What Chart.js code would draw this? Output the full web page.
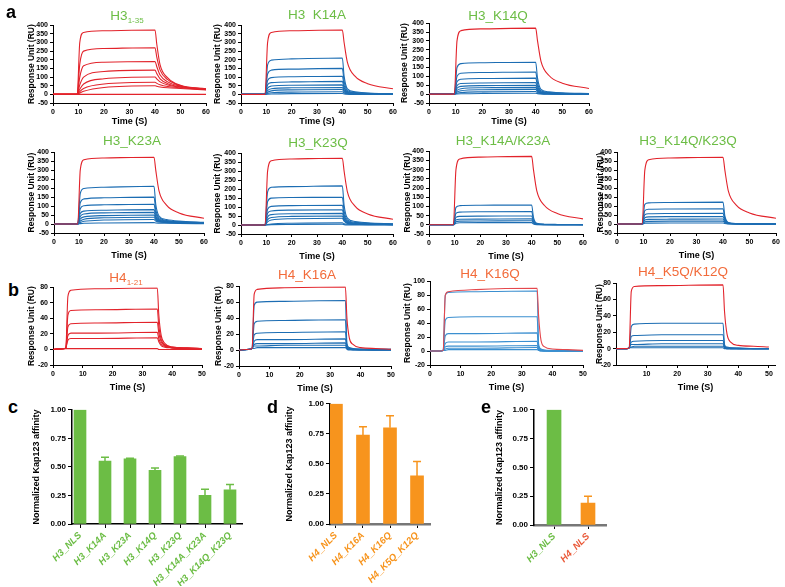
<!DOCTYPE html>
<html>
<head>
<meta charset="utf-8">
<script src="https://cdn.jsdelivr.net/npm/chart.js@4.4.0/dist/chart.umd.min.js"></script>
<style>
body { margin: 0; background: #fff; }
#wrap { position: relative; width: 785px; height: 587px; overflow: hidden; font-family: "Liberation Sans", Arial, sans-serif; }
canvas { position: absolute; }
.ttl { position: absolute; font-size: 13.5px; white-space: pre; transform: translate(-50%, -50%); line-height: 1; }
.ttl sub { font-size: 8px; vertical-align: -3px; }
.lt { position: absolute; font-size: 18px; font-weight: bold; line-height: 1; }
</style>
</head>
<body>
<div id="wrap"></div>
<script>
// sensorgram time points (s)
var tH3 = [0, 9.5, 10.5, 12, 20, 40, 40.7, 42, 45, 50, 60];
var tH4 = [0, 3.5, 4.3, 5, 6, 15, 35, 35.5, 36.3, 37.5, 40, 45, 50];

// highest concentration reference curve (red) used in the H3 mutant panels
var redH3 = [0, 0, 300, 358, 368, 372, 300, 185, 105, 62, 32];

var h3_wt = [
    [0, 0, 300, 358, 368, 372, 290, 170, 95, 52, 32],
    [0, 0, 175, 250, 265, 270, 215, 140, 85, 50, 31],
    [0, 0, 100, 165, 186, 190, 160, 112, 72, 47, 30],
    [0, 0, 55, 100, 132, 140, 120, 90, 62, 44, 29],
    [0, 0, 30, 60, 90, 100, 90, 72, 54, 41, 28],
    [0, 0, 16, 34, 60, 70, 64, 55, 45, 38, 27],
    [0, 0, 8, 18, 40, 50, 47, 43, 38, 34, 26],
    [0, 0, 0, 0, 0, 0, 0, 0, 0, 0, 0]
];
var h3_k14a = [
    [0, 0, 170, 198, 205, 210, 105, 32, 15, 8, 4],
    [0, 0, 118, 140, 146, 150, 75, 23, 11, 6, 3],
    [0, 0, 80, 97, 102, 105, 52, 16, 8, 4, 2],
    [0, 0, 55, 68, 72, 75, 38, 12, 6, 3, 2],
    [0, 0, 36, 48, 53, 55, 28, 9, 4, 2, 1],
    [0, 0, 22, 32, 38, 40, 20, 7, 3, 2, 1],
    [0, 0, 12, 20, 26, 28, 14, 5, 2, 1, 1],
    [0, 0, 5, 9, 13, 15, 8, 3, 1, 1, 0],
    [0, 0, 1, 2, 4, 5, 3, 1, 0, 0, 0]
];
var h3_k14q = [
    [0, 0, 150, 172, 177, 180, 90, 27, 13, 7, 3],
    [0, 0, 100, 118, 122, 125, 62, 19, 9, 5, 2],
    [0, 0, 70, 84, 88, 90, 45, 14, 6, 3, 2],
    [0, 0, 48, 60, 63, 65, 33, 10, 5, 2, 1],
    [0, 0, 33, 44, 48, 50, 25, 8, 4, 2, 1],
    [0, 0, 21, 30, 36, 38, 19, 6, 3, 1, 1],
    [0, 0, 12, 19, 25, 27, 14, 4, 2, 1, 0],
    [0, 0, 5, 9, 13, 15, 8, 3, 1, 0, 0],
    [0, 0, 1, 2, 4, 5, 3, 1, 0, 0, 0]
];
var h3_k23a = [
    [0, 0, 170, 198, 205, 210, 110, 45, 25, 16, 9],
    [0, 0, 118, 140, 146, 150, 80, 35, 20, 13, 8],
    [0, 0, 85, 102, 107, 110, 60, 28, 17, 11, 7],
    [0, 0, 58, 72, 77, 80, 45, 22, 14, 10, 6],
    [0, 0, 42, 56, 62, 65, 37, 19, 12, 9, 6],
    [0, 0, 28, 40, 47, 50, 30, 16, 11, 8, 5],
    [0, 0, 17, 27, 35, 38, 24, 14, 10, 7, 5],
    [0, 0, 8, 15, 22, 25, 17, 11, 8, 6, 4],
    [0, 0, 2, 4, 6, 8, 6, 5, 4, 3, 2]
];
var h3_k23q = [
    [0, 0, 185, 210, 214, 218, 110, 38, 20, 12, 7],
    [0, 0, 130, 150, 153, 155, 78, 28, 15, 9, 5],
    [0, 0, 88, 104, 108, 110, 56, 21, 11, 7, 4],
    [0, 0, 65, 78, 83, 85, 44, 17, 9, 6, 4],
    [0, 0, 45, 58, 63, 65, 34, 14, 8, 5, 3],
    [0, 0, 30, 42, 48, 50, 27, 11, 7, 4, 3],
    [0, 0, 18, 28, 35, 38, 21, 9, 6, 4, 2],
    [0, 0, 3, 6, 10, 12, 7, 4, 3, 2, 1],
    [0, 0, 1, 2, 3, 4, 2, 1, 1, 0, 0]
];
var h3_k14a_k23a = [
    [0, 0, 95, 104, 106, 108, 40, 8, 3, 2, 1],
    [0, 0, 62, 69, 71, 72, 27, 6, 2, 1, 1],
    [0, 0, 40, 46, 47, 48, 18, 4, 2, 1, 0],
    [0, 0, 26, 30, 31, 32, 12, 3, 1, 1, 0],
    [0, 0, 17, 20, 21, 22, 9, 2, 1, 0, 0],
    [0, 0, 8, 11, 12, 12, 5, 1, 0, 0, 0]
];
var h3_k14q_k23q = [
    [0, 0, 110, 118, 120, 122, 45, 9, 3, 2, 1],
    [0, 0, 75, 82, 84, 85, 32, 6, 2, 1, 1],
    [0, 0, 52, 57, 59, 60, 23, 5, 2, 1, 0],
    [0, 0, 35, 40, 41, 42, 16, 4, 1, 1, 0],
    [0, 0, 22, 26, 27, 28, 11, 3, 1, 0, 0],
    [0, 0, 12, 15, 16, 16, 7, 2, 1, 0, 0],
    [0, 0, 4, 5, 6, 6, 3, 1, 0, 0, 0]
];

var h4_wt = [
    [0, 1, 2, 68, 76, 78, 79, 45, 18, 8, 3, 2, 1],
    [0, 1, 2, 44, 50, 51, 52, 30, 13, 6, 3, 2, 1],
    [0, 1, 2, 29, 33, 34, 35, 21, 10, 5, 2, 1, 1],
    [0, 1, 2, 18, 21, 21, 22, 14, 7, 4, 2, 1, 1],
    [0, 1, 2, 12, 14, 14, 15, 10, 5, 3, 2, 1, 1],
    [0, 1, 1, 1, 1, 1, 1, 0, 0, 0, 0, 0, 0]
];
var redK16A = [0, 1, 2, 70, 76, 78, 79, 40, 15, 7, 3, 2, 1];
var h4_k16a = [
    [0, 1, 2, 56, 60, 61, 62, 8, 3, 2, 1, 1, 1],
    [0, 1, 2, 33, 36, 37, 38, 5, 2, 1, 1, 1, 1],
    [0, 1, 2, 19, 21, 22, 23, 4, 2, 1, 1, 0, 0],
    [0, 1, 2, 11, 13, 13, 14, 3, 1, 1, 1, 0, 0],
    [0, 1, 2, 7, 8, 8, 9, 2, 1, 1, 0, 0, 0],
    [0, 1, 2, 5, 5, 6, 6, 2, 1, 0, 0, 0, 0],
    [0, 1, 2, 2, 3, 3, 3, 1, 0, 0, 0, 0, 0]
];
var redK16Q = [0, 0, 1, 80, 85, 88, 90, 50, 15, 6, 3, 2, 1];
var h4_k16q = [
    [0, 0, 1, 80, 84, 85, 86, 10, 3, 1, 1, 0, 0],
    [0, 0, 1, 44, 48, 49, 49, 6, 2, 1, 0, 0, 0],
    [0, 0, 1, 22, 25, 25, 26, 4, 1, 1, 0, 0, 0],
    [0, 0, 1, 11, 13, 13, 14, 2, 1, 0, 0, 0, 0],
    [0, 0, 1, 6, 7, 7, 8, 2, 1, 0, 0, 0, 0],
    [0, 0, 1, 3, 4, 4, 5, 1, 0, 0, 0, 0, 0],
    [0, 0, 1, 1, 2, 2, 2, 1, 0, 0, 0, 0, 0]
];
var redK5QK12Q = [0, 0, 1, 70, 76, 77, 78, 45, 18, 8, 4, 3, 2];
var h4_k5q_k12q = [
    [0, 0, 1, 27, 30, 31, 31, 5, 2, 1, 1, 0, 0],
    [0, 0, 1, 15, 16, 17, 17, 3, 1, 1, 0, 0, 0],
    [0, 0, 1, 8, 9, 10, 10, 2, 1, 0, 0, 0, 0],
    [0, 0, 1, 5, 5, 6, 6, 1, 0, 0, 0, 0, 0],
    [0, 0, 1, 2, 3, 3, 3, 1, 0, 0, 0, 0, 0],
    [0, 0, 1, 1, 1, 1, 1, 0, 0, 0, 0, 0, 0]
];

// normalized Kap123 affinity
var catsC = ['H3_NLS', 'H3_K14A', 'H3_K23A', 'H3_K14Q', 'H3_K23Q', 'H3_K14A_K23A', 'H3_K14Q_K23Q'];
var valsC = [1.0, 0.55, 0.57, 0.47, 0.59, 0.25, 0.30];
var errC = [null, 0.585, 0.575, 0.49, 0.595, 0.305, 0.345];
var catsD = ['H4_NLS', 'H4_K16A', 'H4_K16Q', 'H4_K5Q_K12Q'];
var valsD = [1.0, 0.74, 0.80, 0.40];
var errD = [null, 0.81, 0.90, 0.52];
var catsE = ['H3_NLS', 'H4_NLS'];
var valsE = [1.0, 0.19];
var errE = [null, 0.25];

var RED = '#e2232b', BLUE = '#1c6db3', GREEN = '#6cbd45', ORANGE = '#f7941d';

Chart.defaults.font.family = '"Liberation Sans", Arial, sans-serif';
Chart.defaults.color = '#000';

var wrap = document.getElementById('wrap');

function addCanvas(box, wy, hx, padTop, padRight) {
    var c = document.createElement('canvas');
    c.width = Math.round(box.r - box.l + wy + padRight);
    c.height = Math.round(box.b - box.t + padTop + hx);
    c.style.left = Math.round(box.l - wy) + 'px';
    c.style.top = Math.round(box.t - padTop) + 'px';
    wrap.appendChild(c);
    return c;
}

function addText(cls, html, x, y, color) {
    var d = document.createElement('div');
    d.className = cls;
    d.innerHTML = html;
    d.style.left = x + 'px';
    d.style.top = y + 'px';
    if (color) d.style.color = color;
    wrap.appendChild(d);
}

function spr(p) {
    var wy = Math.round(p.box.l - p.ytx + 5);
    var cv = addCanvas(p.box, wy, p.hx, 6, 8);
    var sets = [];
    p.curves.forEach(function (c) {
        sets.push({
            data: c.vals.map(function (v, i) { return { x: p.t[i], y: v }; }),
            borderColor: c.color,
            borderWidth: 1.1,
            pointRadius: 0,
            cubicInterpolationMode: 'monotone',
            fill: false
        });
    });
    var xt = [];
    for (var v = p.hideZero ? 10 : 0; v <= p.xmax; v += 10) xt.push({ value: v });
    new Chart(cv, {
        type: 'line',
        data: { datasets: sets },
        options: {
            responsive: false,
            animation: false,
            layout: { padding: { top: 6, right: 8, left: 0, bottom: 0 } },
            plugins: { legend: { display: false }, tooltip: { enabled: false } },
            scales: {
                x: {
                    type: 'linear', min: 0, max: p.xmax,
                    afterBuildTicks: function (s) { s.ticks = xt.slice(); },
                    afterFit: function (s) { s.height = p.hx; },
                    ticks: { autoSkip: false, maxRotation: 0, padding: 2, font: { size: 7, weight: 'bold' } },
                    grid: { drawOnChartArea: false, tickLength: 3, color: '#000' },
                    border: { color: '#000', width: 1 },
                    title: { display: true, text: 'Time (S)', font: { size: 9, weight: 'bold' }, padding: { top: 0, bottom: 2 } }
                },
                y: {
                    min: p.ymin, max: p.ymax,
                    afterFit: function (s) { s.width = wy; },
                    ticks: { stepSize: p.ystep, autoSkip: false, padding: 2, font: { size: 7, weight: 'bold' } },
                    grid: { drawOnChartArea: false, tickLength: 3, color: '#000' },
                    border: { color: '#000', width: 1 },
                    title: { display: true, text: 'Response Unit (RU)', font: { size: 8.5, weight: 'bold' }, padding: { top: 0, bottom: 0 } }
                }
            }
        }
    });
}

function errBars(errs, colors) {
    return {
        id: 'errbars',
        afterDatasetsDraw: function (chart) {
            var meta = chart.getDatasetMeta(0), ys = chart.scales.y, ctx = chart.ctx;
            meta.data.forEach(function (bar, i) {
                if (errs[i] == null) return;
                var top = ys.getPixelForValue(errs[i]);
                ctx.save();
                ctx.strokeStyle = colors[i];
                ctx.lineWidth = 1.5;
                ctx.beginPath();
                ctx.moveTo(bar.x, bar.y);
                ctx.lineTo(bar.x, top);
                ctx.moveTo(bar.x - 4, top);
                ctx.lineTo(bar.x + 4, top);
                ctx.stroke();
                ctx.restore();
            });
        }
    };
}

function barPanel(p) {
    var wy = Math.round(p.box.l - p.ytx + 5);
    var cv = addCanvas(p.box, wy, p.hx, 6, 8);
    new Chart(cv, {
        type: 'bar',
        data: {
            datasets: [{
                data: p.vals.map(function (v, i) { return { x: i, y: v }; }),
                backgroundColor: p.colors,
                barThickness: p.bw
            }]
        },
        options: {
            responsive: false,
            animation: false,
            layout: { padding: { top: 6, right: 8, left: 0, bottom: 0 } },
            plugins: { legend: { display: false }, tooltip: { enabled: false } },
            scales: {
                x: {
                    type: 'linear', min: p.xmin, max: p.xmax, offset: false,
                    afterBuildTicks: function (s) { s.ticks = p.cats.map(function (c, i) { return { value: i }; }); },
                    afterFit: function (s) { s.height = p.hx; },
                    ticks: {
                        autoSkip: false, minRotation: 45, maxRotation: 45, padding: 2,
                        font: { size: 9.5, weight: 'bold', style: 'italic' },
                        color: function (ctx) { return p.labelColors[ctx.index]; },
                        callback: function (v) { return p.cats[v]; }
                    },
                    grid: { offset: false, drawOnChartArea: false, tickLength: 4, color: '#000' },
                    border: { color: p.baseColor, width: p.baseWidth }
                },
                y: {
                    min: 0, max: 1,
                    afterFit: function (s) { s.width = wy; },
                    ticks: {
                        stepSize: 0.25, autoSkip: false, padding: 2,
                        font: { size: 8, weight: 'bold' },
                        callback: function (v) { return v.toFixed(2); }
                    },
                    grid: { drawOnChartArea: false, tickLength: 4, color: '#000' },
                    border: { color: '#000', width: 1.5 },
                    title: { display: true, text: 'Normalized Kap123 affinity', font: { size: 9, weight: 'bold' }, padding: { top: 0, bottom: 0 } }
                }
            }
        },
        plugins: [errBars(p.errs, p.colors)]
    });
}

function withRef(ref, refColor, set, setColor) {
    var out = [{ vals: ref, color: refColor }];
    set.forEach(function (v) { out.push({ vals: v, color: setColor }); });
    return out;
}
function allOf(set, color) {
    return set.map(function (v) { return { vals: v, color: color }; });
}

var h3Axis = { t: tH3, xmax: 60, ymin: -50, ymax: 400, ystep: 50 };
var h4Axis = { t: tH4, xmax: 50, ymin: -20, ymax: 80, ystep: 20 };

var panels = [
    { ax: h3Axis, box: { l: 53, r: 206, t: 25, b: 103 }, ytx: 32, hx: 26, curves: allOf(h3_wt, RED) },
    { ax: h3Axis, box: { l: 241, r: 393, t: 25, b: 103 }, ytx: 218, hx: 26, curves: withRef(redH3, RED, h3_k14a, BLUE) },
    { ax: h3Axis, box: { l: 429, r: 589, t: 23, b: 103 }, ytx: 405, hx: 26, curves: withRef(redH3, RED, h3_k14q, BLUE) },
    { ax: h3Axis, box: { l: 54, r: 204, t: 152, b: 233 }, ytx: 32, hx: 30, curves: withRef(redH3, RED, h3_k23a, BLUE) },
    { ax: h3Axis, box: { l: 241, r: 393, t: 153, b: 234 }, ytx: 218, hx: 30, curves: withRef(redH3, RED, h3_k23q, BLUE) },
    { ax: h3Axis, box: { l: 429, r: 583, t: 151, b: 234 }, ytx: 408, hx: 30, curves: withRef(redH3, RED, h3_k14a_k23a, BLUE) },
    { ax: h3Axis, box: { l: 617, r: 776, t: 152, b: 233 }, ytx: 601, hx: 30, curves: withRef(redH3, RED, h3_k14q_k23q, BLUE) },
    { ax: h4Axis, box: { l: 53, r: 202, t: 287, b: 365 }, ytx: 32, hx: 30, curves: allOf(h4_wt, RED) },
    { ax: h4Axis, box: { l: 239, r: 391, t: 286, b: 366 }, ytx: 219, hx: 30, curves: withRef(redK16A, RED, h4_k16a, BLUE) },
    { ax: h4Axis, box: { l: 430, r: 583, t: 281, b: 365 }, ytx: 408, hx: 30, ymax: 100, curves: withRef(redK16Q, '#e5484d', h4_k16q, '#3b8fd0') },
    { ax: h4Axis, box: { l: 616, r: 775, t: 283, b: 365 }, ytx: 600, hx: 30, xmax: 52, hideZero: true, curves: withRef(redK5QK12Q, RED, h4_k5q_k12q, BLUE) }
];

panels.forEach(function (p) {
    spr({
        t: p.ax.t, xmax: p.xmax || p.ax.xmax, ymin: p.ax.ymin, ymax: p.ymax || p.ax.ymax, ystep: p.ax.ystep,
        box: p.box, ytx: p.ytx, hx: p.hx, hideZero: p.hideZero, curves: p.curves
    });
});

barPanel({ box: { l: 72, r: 242, t: 409, b: 524 }, ytx: 36, hx: 62, xmin: -0.32, xmax: 6.48, bw: 12,
    cats: catsC, vals: valsC, errs: errC, colors: catsC.map(function () { return GREEN; }),
    labelColors: catsC.map(function () { return GREEN; }), baseColor: '#000', baseWidth: 1.5 });
barPanel({ box: { l: 330, r: 430, t: 403, b: 524 }, ytx: 289, hx: 62, xmin: -0.22, xmax: 3.48, bw: 13,
    cats: catsD, vals: valsD, errs: errD, colors: catsD.map(function () { return ORANGE; }),
    labelColors: catsD.map(function () { return ORANGE; }), baseColor: '#777', baseWidth: 2.5 });
barPanel({ box: { l: 534, r: 606, t: 409, b: 525 }, ytx: 499, hx: 62, xmin: -0.59, xmax: 1.53, bw: 14,
    cats: catsE, vals: valsE, errs: errE, colors: [GREEN, ORANGE],
    labelColors: [GREEN, '#ea5a3a'], baseColor: '#777', baseWidth: 2.5 });

// panel titles
var H3C = GREEN, H4C = '#f26b3a';
addText('ttl', 'H3<sub>1-35</sub>', 127, 17, H3C);
addText('ttl', 'H3  K14A', 317, 15, H3C);
addText('ttl', 'H3_K14Q', 498, 16, H3C);
addText('ttl', 'H3_K23A', 132, 141, H3C);
addText('ttl', 'H3_K23Q', 318, 143, H3C);
addText('ttl', 'H3_K14A/K23A', 503, 141, H3C);
addText('ttl', 'H3_K14Q/K23Q', 688, 141, H3C);
addText('ttl', 'H4<sub>1-21</sub>', 126, 279, H4C);
addText('ttl', 'H4_K16A', 307, 275, H4C);
addText('ttl', 'H4_K16Q', 490, 274, H4C);
addText('ttl', 'H4_K5Q/K12Q', 683, 272, H4C);

// panel letters
addText('lt', 'a', 6, 3);
addText('lt', 'b', 8, 281);
addText('lt', 'c', 8, 398);
addText('lt', 'd', 267, 398);
addText('lt', 'e', 481, 398);
</script>
</body>
</html>
